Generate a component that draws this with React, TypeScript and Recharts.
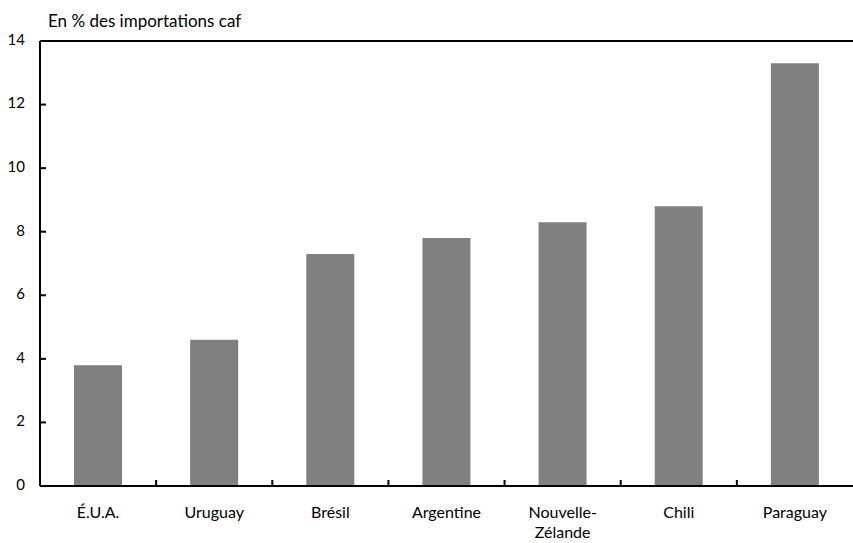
import React from "react";
import { BarChart, Bar, XAxis, YAxis, ReferenceLine } from "recharts";

const categories = ["É.U.A.", "Uruguay", "Brésil", "Argentine", "Nouvelle-\nZélande", "Chili", "Paraguay"];
const values = [3.8, 4.6, 7.3, 7.8, 8.3, 8.8, 13.3];
const yTicks = [0, 2, 4, 6, 8, 10, 12, 14];
const yMax = 14;
const title = "En % des importations caf";

const data = categories.map((c, i) => ({ name: c, value: values[i] }));

const FONT = "Lato, 'Open Sans', sans-serif";
const PLOT_W = 813;

const CatTick = (props: any) => {
  const { x, y, payload, index } = props;
  const half = payload && typeof payload.offset === "number" && payload.offset > 0 ? payload.offset : PLOT_W / categories.length / 2;
  const lines = String(payload.value).split("\n");
  const cx = Number(x);
  const cy = Number(y);
  return (
    <g>
      {index > 0 && <rect x={cx - half - 1} y={cy - 6} width={2} height={6} fill="#000" />}
      {lines.map((l: string, i: number) => (
        <text key={i} x={cx} y={cy + 28 + i * 20} textAnchor="middle" dominantBaseline="middle" fontFamily={FONT} fontSize={16} fill="#000">
          {l}
        </text>
      ))}
    </g>
  );
};

const ValTick = (props: any) => {
  const { x, y, payload } = props;
  const tx = Number(x);
  const ty = Number(y);
  return (
    <g>
      <rect x={tx + 15} y={ty - 1} width={6} height={2} fill="#000" />
      <text x={tx} y={ty} textAnchor="end" dominantBaseline="middle" fontFamily={FONT} fontSize={15} fill="#000">
        {payload.value}
      </text>
    </g>
  );
};

export default function App() {
  return (
    <div style={{ position: "absolute", left: 0, top: 0, width: 853, height: 543, background: "#fff" }}>
      <div style={{ position: "absolute", left: 48, top: 10, fontFamily: FONT, fontSize: 17, color: "#000", whiteSpace: "nowrap" }}>
        {title}
      </div>
      <BarChart width={853} height={543} data={data} margin={{ top: 41, right: 0, bottom: 0, left: 0 }}>
        <XAxis
          dataKey="name"
          height={57}
          axisLine={{ stroke: "#000", strokeWidth: 2 }}
          tickLine={false}
          tickMargin={0}
          tickSize={0}
          tick={<CatTick />}
          interval={0}
        />
        <YAxis
          domain={[0, yMax]}
          ticks={yTicks}
          width={40}
          tickSize={0}
          tickMargin={15}
          axisLine={{ stroke: "#000", strokeWidth: 2 }}
          tickLine={false}
          tick={<ValTick />}
          interval={0}
        />
        <ReferenceLine y={yMax} stroke="#000" strokeWidth={2} ifOverflow="visible" />
        <Bar dataKey="value" fill="#808080" barSize={48} isAnimationActive={false} />
      </BarChart>
    </div>
  );
}
